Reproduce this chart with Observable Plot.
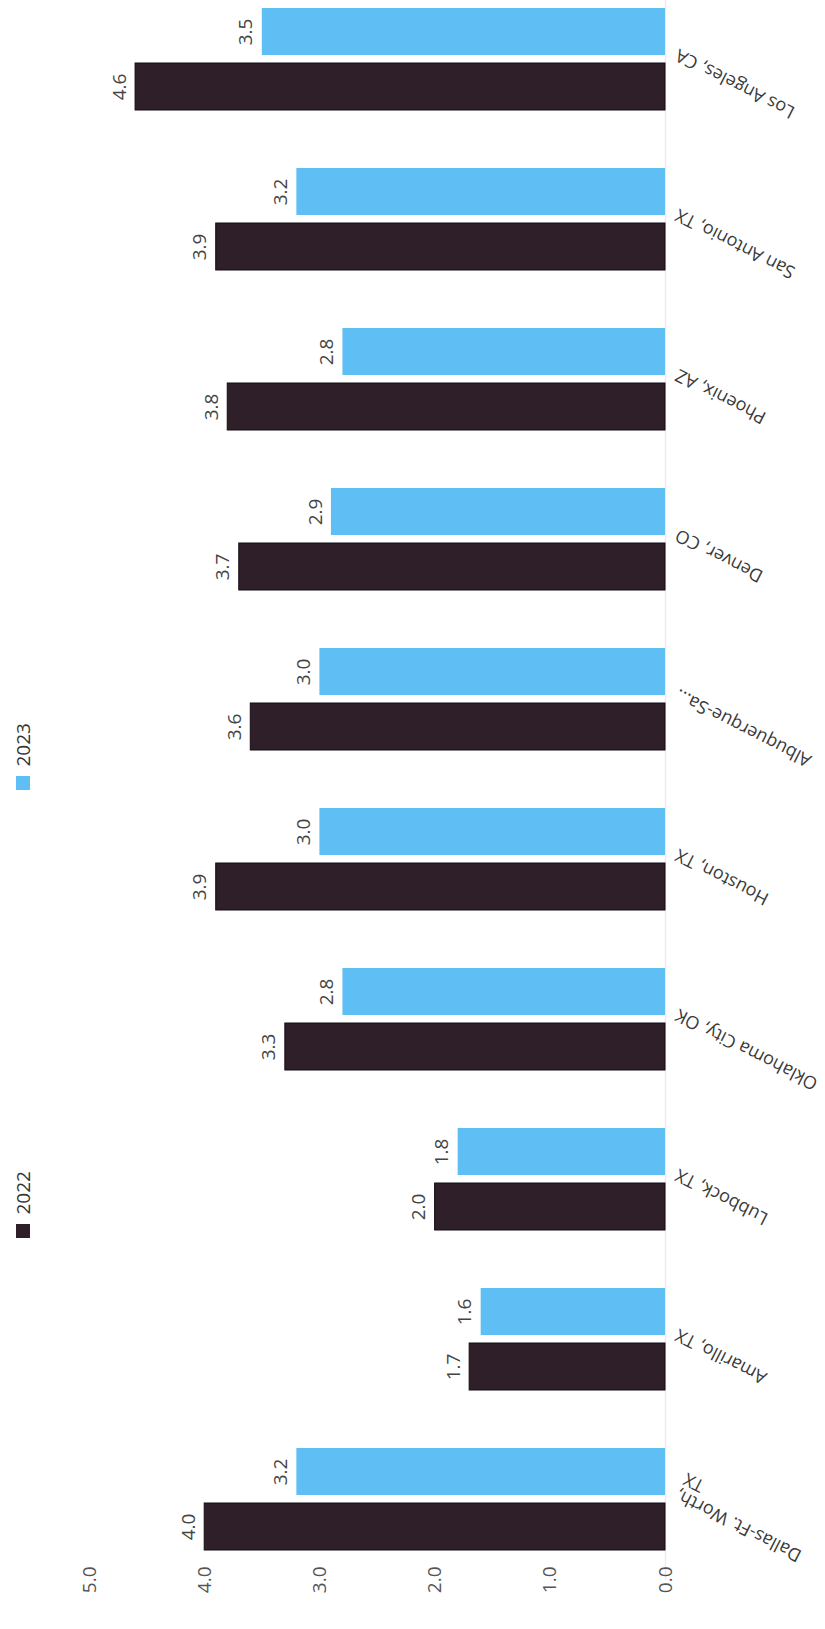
<!DOCTYPE html>
<html>
<head>
<meta charset="utf-8">
<script src="https://cdn.jsdelivr.net/npm/d3@7"></script>
<script src="https://cdn.jsdelivr.net/npm/@observablehq/plot@0.6"></script>
<style>
  html, body { margin: 0; padding: 0; background: #fff; }
  #wrap { position: relative; width: 825px; height: 1629px; overflow: hidden; font-family: "Open Sans", sans-serif; }
  #chart { position: absolute; left: 0; top: 0; }
  #legend { position: absolute; left: 6px; top: 1238px; width: 1000px; transform-origin: 0 0; transform: rotate(-90deg); font-family: "Open Sans", sans-serif; font-size: 19px; color: #333; white-space: nowrap; }
  #legend > div { flex-wrap: nowrap !important; }
  #legend span { width: 448px; margin-right: 0 !important; flex: none; }
</style>
</head>
<body>
<div id="wrap">
  <div id="chart"></div>
  <div id="legend"></div>
</div>
<script>
// Categories, top to bottom as drawn
const cities = ["Los Angeles, CA", "San Antonio, TX", "Phoenix, AZ", "Denver, CO", "Albuquerque-Sa...", "Houston, TX", "Oklahoma City, OK", "Lubbock, TX", "Amarillo, TX", "Dallas-Ft. Worth, TX"];
const cityLabels = ["Los Angeles, CA", "San Antonio, TX", "Phoenix, AZ", "Denver, CO", "Albuquerque-Sa...", "Houston, TX", "Oklahoma City, OK", "Lubbock, TX", "Amarillo, TX", "Dallas-Ft. Worth,\nTX"];
const years = ["2022", "2023"];
const values2022 = [4.6, 3.9, 3.8, 3.7, 3.6, 3.9, 3.3, 2.0, 1.7, 4.0];
const values2023 = [3.5, 3.2, 2.8, 2.9, 3.0, 3.0, 2.8, 1.8, 1.6, 3.2];
const xTicks = [0, 1, 2, 3, 4, 5];
const colors = ["#2e1f29", "#5fbff5"];

const data = [];
cities.forEach((c, i) => {
  data.push({city: c, year: "2022", value: values2022[i]});
  data.push({city: c, year: "2023", value: values2023[i]});
});
const labelRows = cities.map((c, i) => ({city: c, label: cityLabels[i]}));
const fmt = d3.format(".1f");

const plot = Plot.plot({
  width: 825,
  height: 1629,
  marginTop: 5,
  marginBottom: 74,
  marginLeft: 89,
  marginRight: 160,
  facet: {marginTop: 0, marginBottom: 0, marginLeft: 89, marginRight: 160},
  style: {fontFamily: "Open Sans, sans-serif", fontSize: "20px", color: "#333", background: "#fff"},
  x: {domain: [0, 5], reverse: true},
  y: {domain: ["2023", "2022"], paddingInner: 0.14, paddingOuter: 0, axis: null},
  fy: {domain: cities, paddingInner: 0.355, paddingOuter: 0, axis: null},
  color: {domain: years, range: colors},
  marks: [
    Plot.ruleX([0], {stroke: "#ececec", strokeWidth: 1.5, insetTop: -29, insetBottom: -29}),
    Plot.barX(data, {fy: "city", y: "year", x: "value", fill: "year", stroke: d => d.year === "2022" ? "#150c12" : "none", strokeWidth: 1}),
    Plot.text(data, {fy: "city", y: "year", x: "value", text: d => fmt(d.value), rotate: -90, textAnchor: "middle", dx: -16, fontSize: 19, fill: "#444"}),
    Plot.text(labelRows, {fy: "city", x: () => 0, text: "label", rotate: 207, textAnchor: "end", lineAnchor: "top", dx: 8, fontSize: 18, fill: "#3a3a3a"}),
    Plot.axisX({anchor: "bottom", ticks: xTicks, tickFormat: fmt, tickSize: 0, tickRotate: -90, textAnchor: "end", tickPadding: 15, fontSize: 19, fill: "#555", label: null})
  ]
});
document.getElementById("chart").appendChild(plot);

const legend = Plot.legend({color: {domain: years, range: colors}, swatchSize: 14, style: {fontFamily: "Open Sans, sans-serif", fontSize: "19px", color: "#333"}});
document.getElementById("legend").appendChild(legend);
</script>
</body>
</html>
